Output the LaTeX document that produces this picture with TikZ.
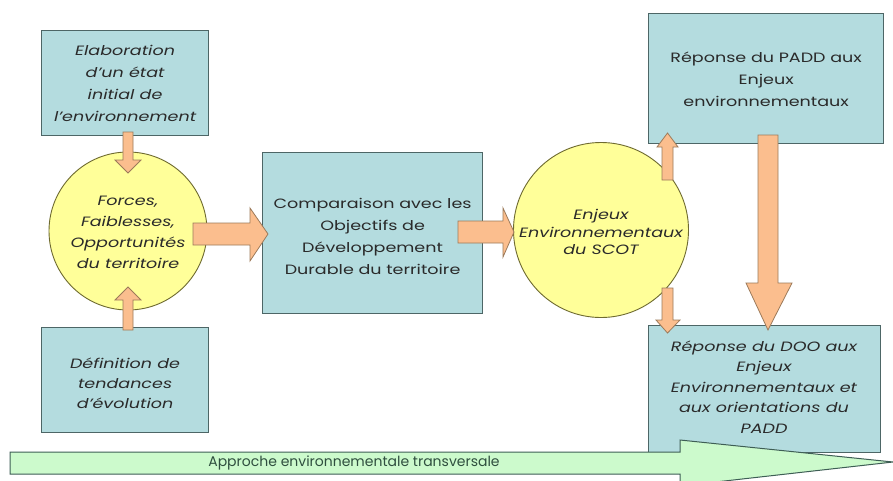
\documentclass[tikz,border=0pt]{standalone}
\usepackage{fontspec}
\setmainfont{Poppins}[FakeStretch=1.3]
\newfontfamily\barfont{Poppins}
\begin{document}
\begin{tikzpicture}[x=1pt,y=-1pt,
  box/.style={draw=boxline,fill=boxfill,line width=1.2pt,inner sep=0pt,anchor=north west},
  disc/.style={draw=discline,fill=discfill,line width=0.9pt,circle,inner sep=0pt},
  barr/.style={draw=arrline,fill=arrfill,line width=0.8pt,line join=miter},
  txt/.style={align=center,text=txtcol,font=\fontsize{13.5}{21}\selectfont},
]
\definecolor{boxfill}{HTML}{B4DCDF}
\definecolor{boxline}{HTML}{4D6666}
\definecolor{discfill}{HTML}{FFFF99}
\definecolor{discline}{HTML}{6E6A30}
\definecolor{arrfill}{HTML}{FBBE8E}
\definecolor{arrline}{HTML}{9C7A5A}
\definecolor{barfill}{HTML}{CCFACC}
\definecolor{barline}{HTML}{3E5E55}
\definecolor{txtcol}{HTML}{2A2A2A}
\definecolor{bartxt}{HTML}{2F4F3F}
\useasboundingbox[fill=white] (0,0) rectangle (893,480);

% boxes
\node[box,minimum width=167pt,minimum height=105pt] (b1) at (41,30) {};
\node[txt,font=\fontsize{13.5}{22}\selectfont\itshape] at (b1.center) {Elaboration\\d'un état\\initial de\\l'environnement};
\node[box,minimum width=167pt,minimum height=105pt] (b2) at (41,327) {};
\node[txt,font=\fontsize{13.5}{20}\selectfont\itshape] at ([yshift=-3pt]b2.center) {Définition de\\tendances\\d'évolution};
\node[box,minimum width=220pt,minimum height=161pt] (b3) at (262,152) {};
\node[txt,font=\fontsize{13.5}{22}\selectfont] at ([yshift=-3pt]b3.center) {Comparaison avec les\\Objectifs de\\Développement\\Durable du territoire};
\node[box,minimum width=235pt,minimum height=130pt] (b4) at (648,13) {};
\node[txt,font=\fontsize{13.5}{22}\selectfont] at ([yshift=-1pt]b4.center) {Réponse du PADD aux\\Enjeux\\environnementaux};
\node[box,minimum width=232pt,minimum height=127pt] (b5) at (648,325) {};
\node[txt,font=\fontsize{13.5}{20.5}\selectfont\itshape,anchor=north] at (648+116,337) {Réponse du DOO aux\\Enjeux\\Environnementaux et\\aux orientations du\\PADD};

% circles
\node[disc,minimum size=158pt] (c1) at (128,231) {};
\node[txt,font=\fontsize{13.5}{21}\selectfont\itshape] at ([yshift=-1pt]c1.center) {Forces,\\Faiblesses,\\Opportunités\\du territoire};
\node[disc,minimum size=175pt] (c2) at (601,230) {};
\node[txt,font=\fontsize{13.5}{17.5}\selectfont\itshape] at ([yshift=-2pt]c2.center) {Enjeux\\Environnementaux\\du SCOT};

% block arrows
% down: b1 -> c1
\draw[barr] (123,132) -- (133,132) -- (133,160) -- (141,160) -- (128,173) -- (115,160) -- (123,160) -- cycle;
% up: b2 -> c1
\draw[barr] (123,330) -- (133,330) -- (133,300) -- (141,300) -- (128,287) -- (115,300) -- (123,300) -- cycle;
% right: c1 -> b3
\draw[barr] (193,223) -- (250,223) -- (250,208) -- (268,234) -- (250,261) -- (250,245) -- (193,245) -- cycle;
% right: b3 -> c2
\draw[barr] (458,221) -- (503,221) -- (503,208) -- (514,232) -- (503,257) -- (503,243) -- (458,243) -- cycle;
% up: c2 -> b4
\draw[barr] (662,180) -- (673,180) -- (673,147) -- (678,147) -- (667.5,133) -- (657,147) -- (662,147) -- cycle;
% down: c2 -> b5
\draw[barr] (662,288) -- (673,288) -- (673,320) -- (680,320) -- (667.5,333) -- (656,320) -- (662,320) -- cycle;
% down: b4 -> b5
\draw[barr] (758,135) -- (778,135) -- (778,283) -- (792,283) -- (768,330) -- (746,283) -- (758,283) -- cycle;

% bottom transversal arrow
\draw[draw=barline,fill=barfill,line width=1pt] (10,452) -- (680,452) -- (680,440) -- (893,462) -- (680,486) -- (680,474) -- (10,474) -- cycle;
\node[txt,text=bartxt,font=\barfont\fontsize{14}{15}\selectfont] (bar) at (354,463) {Approche environnementale transversale};
\end{tikzpicture}
\end{document}
